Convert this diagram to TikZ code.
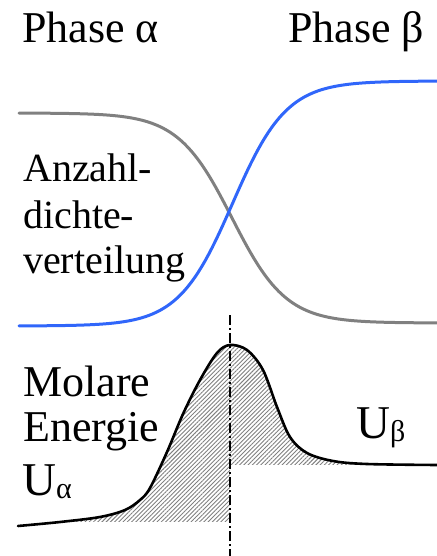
\documentclass[tikz,border=0pt]{standalone}
\usepackage{fontspec}
\newfontfamily\serifface{LiberationSerif}[Extension=.ttf, UprightFont=*-Regular, BoldFont=*-Bold]
\usetikzlibrary{patterns.meta}
\definecolor{curvegray}{RGB}{128,128,128}
\definecolor{curveblue}{RGB}{48,102,250}
\begin{document}
\begin{tikzpicture}[x=1bp,y=-1bp,
  lbl/.style={inner sep=0pt, anchor=base west},
  big/.style={font=\serifface\fontsize{44bp}{44bp}\selectfont},
  mid/.style={font=\serifface\fontsize{40bp}{40bp}\selectfont},
  ulbl/.style={font=\serifface\fontsize{47bp}{47bp}\selectfont},
  dens/.style={line width=3bp, line cap=round},
  energy/.style={line width=2.6bp, black, line cap=round},
  hatch/.style={pattern={Lines[angle=45,distance=3bp,line width=0.9bp]}, pattern color=black!50},
  divider/.style={line width=1.2bp, dash pattern=on 10bp off 3bp on 2bp off 3bp}
]
\useasboundingbox (0,0) rectangle (437,556);
\def\ucurve{(18,526) (60,522) (100,517) (125,510) (140,500) (150,488) (167,452) (183,414) (200,380) (217,353) (230,345) (247,350) (263,370) (277,407) (290,437) (307,453) (333,461) (367,464) (437,465)}

% labels
\node[lbl,big] (pa) at (22,43) {Phase α};
\node[lbl,big] (pb) at (288,43) {Phase β};
\node[lbl,mid] (an1) at (23,182) {Anzahl-};
\node[lbl,mid] (an2) at (23,228) {dichte-};
\node[lbl,mid] (an3) at (23,273) {verteilung};
\node[lbl,big] (mo) at (23,396) {Molare};
\node[lbl,big] (en) at (23,441) {Energie};
\node[lbl,ulbl] (ua) at (22,495) {U\raisebox{-3bp}{\fontsize{30bp}{30bp}\selectfont α}};
\node[lbl,ulbl] (ub) at (356,438) {U\raisebox{-3bp}{\fontsize{30bp}{30bp}\selectfont β}};

% density curves
\draw[dens, curvegray] plot[domain=19:437, samples=120] (\x,{113+210/(1+exp(-(\x-232)/27))});
\draw[dens, curveblue] plot[domain=19:437, samples=120] (\x,{326-245/(1+exp(-(\x-232.5)/27))});

% hatched areas
\begin{scope}
  \clip plot[smooth, tension=0.55] coordinates {\ucurve} -- (437,556) -- (18,556) -- cycle;
  \path[hatch] (0,300) rectangle (230,521);
  \path[hatch] (230,300) rectangle (437,464);
\end{scope}

% divider
\coordinate (vtop) at (230,315);
\coordinate (vbot) at (230,556);
\draw[divider] (vtop) -- (vbot);

% energy curve
\draw[energy] plot[smooth, tension=0.55] coordinates {\ucurve};
\end{tikzpicture}
\end{document}
